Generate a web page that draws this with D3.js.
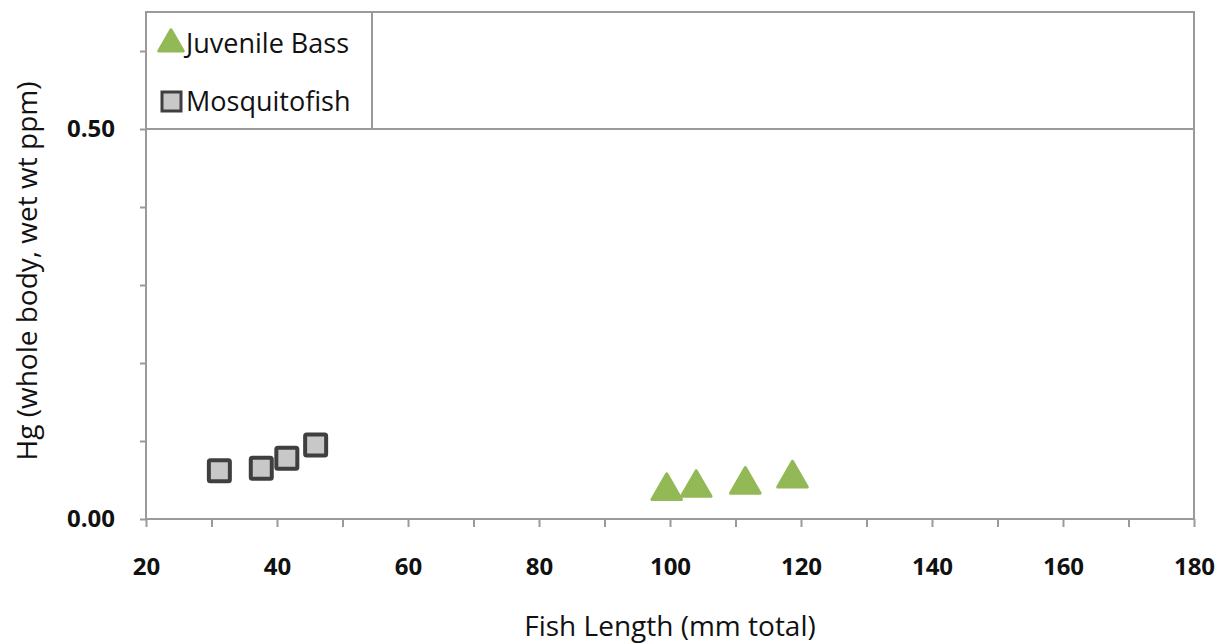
<!DOCTYPE html>
<html>
<head>
<meta charset="utf-8">
<script src="https://cdn.jsdelivr.net/npm/d3@7"></script>
<style>
  body { margin: 0; background: #fff; }
  svg { display: block; font-family: "Open Sans", sans-serif; }
</style>
</head>
<body>
<svg id="chart" width="1228" height="643"></svg>
<script>
// data
const bassLength = [99.5, 104, 111.5, 118.7];
const bassHg = [0.036, 0.040, 0.044, 0.052];
const mosqLength = [31.2, 37.6, 41.5, 45.9];
const mosqHg = [0.062, 0.065, 0.078, 0.095];
const xTicks = [20, 40, 60, 80, 100, 120, 140, 160, 180];
const yTicks = [0, 0.5];

const svg = d3.select('#chart');
const margin = {left: 146, right: 34, top: 12, bottom: 124};
const W = 1228, H = 643;

const x = d3.scaleLinear().domain([20, 180]).range([margin.left, W - margin.right]);
const y = d3.scaleLinear().domain([0, 0.65]).range([H - margin.bottom, margin.top]);

const axisCol = '#9a9a9a';

// plot border
svg.append('rect')
    .attr('x', x(20)).attr('y', y(0.65))
    .attr('width', x(180) - x(20)).attr('height', y(0) - y(0.65))
    .attr('fill', 'none').attr('stroke', axisCol).attr('stroke-width', 2);

// gridline at 0.5
svg.append('line')
    .attr('x1', x(20)).attr('x2', x(180))
    .attr('y1', y(0.5)).attr('y2', y(0.5))
    .attr('stroke', axisCol).attr('stroke-width', 2);

// x axis
let xAxis = svg.append('g').attr('transform', `translate(0,${y(0)})`)
    .call(d3.axisBottom(x).tickValues(d3.range(20, 181, 10)).tickSize(8).tickFormat(d => xTicks.includes(d) ? d : ''))
    .attr('font-family', null).attr('font-size', null);
xAxis.select('.domain').remove();
xAxis.selectAll('line').attr('stroke', axisCol).attr('stroke-width', 2);
xAxis.selectAll('text')
    .attr('dy', 0).attr('y', 56)
    .attr('fill', '#111').style('font-size', '24px').style('font-weight', 'bold');

// y axis
let yAxis = svg.append('g').attr('transform', `translate(${x(20)},0)`)
    .call(d3.axisLeft(y).tickValues(d3.range(0, 0.61, 0.1)).tickSize(6)
        .tickFormat(d => yTicks.some(t => Math.abs(t - d) < 1e-6) ? d3.format('.2f')(d) : ''))
    .attr('font-family', null).attr('font-size', null);
yAxis.select('.domain').remove();
yAxis.selectAll('line').attr('stroke', axisCol).attr('stroke-width', 2);
yAxis.selectAll('text')
    .attr('x', -31)
    .attr('fill', '#111').style('font-size', '24px').style('font-weight', 'bold');

// axis titles
svg.append('text')
    .attr('x', (x(20) + x(180)) / 2).attr('y', 636)
    .attr('text-anchor', 'middle')
    .style('font-size', '28px').attr('fill', '#111')
    .text('Fish Length (mm total)');

svg.append('text')
    .attr('transform', `translate(37,271) rotate(-90)`)
    .attr('text-anchor', 'middle')
    .style('font-size', '28px').attr('fill', '#111')
    .text('Hg (whole body, wet wt ppm)');

// markers
const tri = d3.symbol().type(d3.symbolTriangle).size(380);
const bass = bassLength.map((d, i) => ({x: d, y: bassHg[i]}));
const mosq = mosqLength.map((d, i) => ({x: d, y: mosqHg[i]}));

svg.append('g').selectAll('path').data(bass).join('path')
    .attr('d', tri)
    .attr('transform', d => `translate(${x(d.x)},${y(d.y)})`)
    .attr('fill', '#93b957').attr('stroke', '#93b957').attr('stroke-width', 3)
    .attr('stroke-linejoin', 'round');

const sq = 21;
svg.append('g').selectAll('rect').data(mosq).join('rect')
    .attr('x', d => x(d.x) - sq / 2).attr('y', d => y(d.y) - sq / 2)
    .attr('width', sq).attr('height', sq).attr('rx', 1.5)
    .attr('fill', '#c8c8c8').attr('stroke', '#3f3f3f').attr('stroke-width', 4);

// legend
const lg = svg.append('g');
lg.append('rect')
    .attr('x', x(20)).attr('y', y(0.65))
    .attr('width', 226).attr('height', y(0.5) - y(0.65))
    .attr('fill', '#fff').attr('stroke', axisCol).attr('stroke-width', 2);

lg.append('path').attr('d', d3.symbol().type(d3.symbolTriangle).size(260))
    .attr('transform', `translate(171,44)`)
    .attr('fill', '#93b957').attr('stroke', '#93b957').attr('stroke-width', 3).attr('stroke-linejoin', 'round');
lg.append('text').attr('x', 186).attr('y', 53)
    .style('font-size', '27px').attr('fill', '#111').text('Juvenile Bass');

lg.append('rect').attr('x', 162).attr('y', 92).attr('width', 19).attr('height', 19)
    .attr('fill', '#c8c8c8').attr('stroke', '#3f3f3f').attr('stroke-width', 3);
lg.append('text').attr('x', 186).attr('y', 111)
    .style('font-size', '27px').attr('fill', '#111').text('Mosquitofish');
</script>
</body>
</html>
